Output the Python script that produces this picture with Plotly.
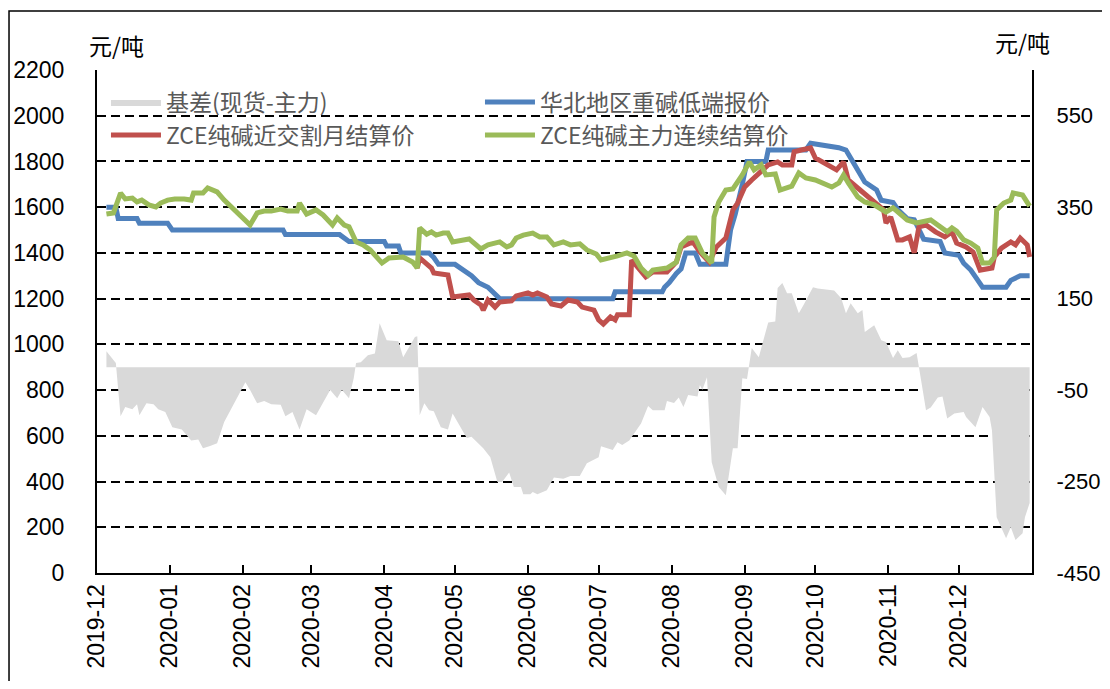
import plotly.graph_objects as go

# ---------------- data ----------------
month_ticks = ["2019-12-01", "2020-01-01", "2020-02-01", "2020-03-01", "2020-04-01",
               "2020-05-01", "2020-06-01", "2020-07-01", "2020-08-01", "2020-09-01",
               "2020-10-01", "2020-11-01", "2020-12-01"]
month_labels = ["2019-12", "2020-01", "2020-02", "2020-03", "2020-04", "2020-05", "2020-06",
                "2020-07", "2020-08", "2020-09", "2020-10", "2020-11", "2020-12"]

# 基差(现货-主力) — right axis
basis_dates = ["2019-12-05", "2019-12-09", "2019-12-11", "2019-12-13", "2019-12-16", "2019-12-18",
               "2019-12-19", "2019-12-22", "2019-12-25", "2019-12-27", "2019-12-30", "2020-01-02",
               "2020-01-06", "2020-01-10", "2020-01-13", "2020-01-15", "2020-01-18", "2020-01-21",
               "2020-01-24", "2020-01-29", "2020-02-02", "2020-02-04", "2020-02-07", "2020-02-10",
               "2020-02-13", "2020-02-17", "2020-02-19", "2020-02-22", "2020-02-25", "2020-02-28",
               "2020-03-03", "2020-03-09", "2020-03-12", "2020-03-14", "2020-03-17", "2020-03-19",
               "2020-03-20", "2020-03-22", "2020-03-25", "2020-03-28", "2020-03-30", "2020-04-02",
               "2020-04-07", "2020-04-09", "2020-04-14", "2020-04-15", "2020-04-16", "2020-04-18",
               "2020-04-20", "2020-04-22", "2020-04-25", "2020-04-28", "2020-04-30", "2020-05-06",
               "2020-05-08", "2020-05-13", "2020-05-16", "2020-05-19", "2020-05-21", "2020-05-24",
               "2020-05-26", "2020-05-29", "2020-05-30", "2020-06-02", "2020-06-03", "2020-06-05",
               "2020-06-09", "2020-06-12", "2020-06-16", "2020-06-19", "2020-06-23", "2020-06-26",
               "2020-07-01", "2020-07-02", "2020-07-07", "2020-07-09", "2020-07-11", "2020-07-14",
               "2020-07-19", "2020-07-22", "2020-07-24", "2020-07-29", "2020-07-30", "2020-08-02",
               "2020-08-04", "2020-08-06", "2020-08-08", "2020-08-12", "2020-08-13", "2020-08-14",
               "2020-08-16", "2020-08-18", "2020-08-21", "2020-08-24", "2020-08-27", "2020-08-29",
               "2020-08-31", "2020-09-02", "2020-09-04", "2020-09-07", "2020-09-09", "2020-09-11",
               "2020-09-14", "2020-09-15", "2020-09-17", "2020-09-19", "2020-09-21", "2020-09-24",
               "2020-09-26", "2020-09-30", "2020-10-02", "2020-10-09", "2020-10-12", "2020-10-14",
               "2020-10-16", "2020-10-19", "2020-10-21", "2020-10-22", "2020-10-26", "2020-10-29",
               "2020-10-31", "2020-11-03", "2020-11-05", "2020-11-07", "2020-11-10", "2020-11-13",
               "2020-11-14", "2020-11-17", "2020-11-19", "2020-11-22", "2020-11-24", "2020-11-26",
               "2020-11-29", "2020-12-03", "2020-12-04", "2020-12-08", "2020-12-11", "2020-12-14",
               "2020-12-15", "2020-12-17", "2020-12-21", "2020-12-23", "2020-12-25", "2020-12-28",
               "2020-12-29", "2020-12-31"]
basis_vals = [35, 9, -107, -87, -92, -81,
              -105, -79, -81, -92, -98, -131,
              -136, -160, -158, -177, -172, -166,
              -120, -72, -33, -50, -79, -74,
              -81, -82, -107, -98, -136, -92,
              -105, -50, -68, -50, -68, -24,
              9, 11, 26, 30, 96, 59,
              57, 22, 66, 68, -105, -79,
              -94, -96, -131, -136, -101, -155,
              -152, -177, -197, -251, -251, -230,
              -262, -262, -278, -278, -273, -278,
              -269, -241, -244, -238, -238, -210,
              -197, -173, -181, -164, -170, -160,
              -123, -85, -94, -94, -74, -78,
              -66, -87, -61, -64, -39, -50,
              -22, -208, -262, -280, -177, -177,
              -24, -26, 42, 22, 63, 98,
              100, 173, 184, 162, 162, 118,
              136, 175, 172, 168, 151, 118,
              140, 118, 125, 77, 92, 59,
              55, 20, 37, 20, 22, 31,
              0, -94, -88, -66, -64, -112,
              -101, -98, -109, -131, -87, -109,
              -138, -328, -374, -350, -378, -363,
              -328, -297]

# 华北地区重碱低端报价 — left axis
blue_dates = ["2019-12-05", "2019-12-09", "2019-12-10", "2019-12-18", "2019-12-19", "2019-12-31",
              "2020-01-02", "2020-02-18", "2020-02-19", "2020-03-13", "2020-03-17", "2020-04-01",
              "2020-04-02", "2020-04-07", "2020-04-08", "2020-04-20", "2020-04-22", "2020-04-24",
              "2020-05-01", "2020-05-08", "2020-05-11", "2020-05-15", "2020-05-20", "2020-07-07",
              "2020-07-08", "2020-07-28", "2020-07-29", "2020-07-31", "2020-08-03", "2020-08-05",
              "2020-08-07", "2020-08-11", "2020-08-13", "2020-08-24", "2020-08-26", "2020-08-28",
              "2020-08-31", "2020-09-02", "2020-09-10", "2020-09-11", "2020-09-27", "2020-09-29",
              "2020-10-11", "2020-10-14", "2020-10-16", "2020-10-19", "2020-10-22", "2020-10-27",
              "2020-10-29", "2020-11-03", "2020-11-05", "2020-11-09", "2020-11-12", "2020-11-16",
              "2020-11-23", "2020-11-25", "2020-12-01", "2020-12-03", "2020-12-06", "2020-12-08",
              "2020-12-11", "2020-12-21", "2020-12-23", "2020-12-27", "2020-12-31"]
blue_vals = [1600, 1600, 1550, 1550, 1530, 1530,
             1500, 1500, 1480, 1480, 1450, 1450,
             1430, 1430, 1400, 1400, 1380, 1350,
             1350, 1300, 1270, 1250, 1200, 1200,
             1230, 1230, 1250, 1270, 1310, 1330,
             1400, 1400, 1350, 1350, 1500, 1570,
             1700, 1800, 1800, 1850, 1850, 1880,
             1860, 1850, 1815, 1765, 1710, 1675,
             1630, 1620, 1590, 1550, 1545, 1460,
             1450, 1400, 1390, 1355, 1325, 1295,
             1250, 1250, 1280, 1300, 1300]

# ZCE纯碱近交割月结算价 — left axis
red_dates = ["2020-04-14", "2020-04-15", "2020-04-16", "2020-04-19", "2020-04-21", "2020-04-22",
             "2020-04-28", "2020-04-30", "2020-05-07", "2020-05-09", "2020-05-12", "2020-05-13",
             "2020-05-15", "2020-05-18", "2020-05-20", "2020-05-25", "2020-05-27", "2020-06-01",
             "2020-06-03", "2020-06-05", "2020-06-09", "2020-06-11", "2020-06-15", "2020-06-18",
             "2020-06-22", "2020-06-24", "2020-06-29", "2020-07-01", "2020-07-03", "2020-07-06",
             "2020-07-08", "2020-07-09", "2020-07-14", "2020-07-15", "2020-07-18", "2020-07-21",
             "2020-07-24", "2020-07-30", "2020-08-03", "2020-08-05", "2020-08-10", "2020-08-13",
             "2020-08-17", "2020-08-20", "2020-08-24", "2020-08-25", "2020-08-27", "2020-08-29",
             "2020-09-01", "2020-09-04", "2020-09-07", "2020-09-11", "2020-09-15", "2020-09-17",
             "2020-09-21", "2020-09-22", "2020-09-25", "2020-09-29", "2020-10-01", "2020-10-06",
             "2020-10-10", "2020-10-13", "2020-10-15", "2020-10-19", "2020-10-21", "2020-10-27",
             "2020-10-30", "2020-10-31", "2020-11-02", "2020-11-05", "2020-11-07", "2020-11-10",
             "2020-11-12", "2020-11-14", "2020-11-17", "2020-11-21", "2020-11-25", "2020-11-28",
             "2020-11-30", "2020-12-04", "2020-12-07", "2020-12-10", "2020-12-15", "2020-12-16",
             "2020-12-19", "2020-12-23", "2020-12-25", "2020-12-27", "2020-12-30", "2020-12-31"]
red_vals = [1360, 1334, 1378, 1347, 1334, 1312,
            1303, 1207, 1216, 1194, 1172, 1150,
            1194, 1163, 1185, 1190, 1212, 1225,
            1216, 1225, 1207, 1177, 1168, 1194,
            1185, 1163, 1150, 1107, 1089, 1120,
            1107, 1129, 1129, 1369, 1334, 1295,
            1317, 1317, 1360, 1426, 1448, 1404,
            1360, 1426, 1465, 1500, 1588, 1618,
            1688, 1719, 1750, 1785, 1798, 1785,
            1785, 1842, 1850, 1859, 1815, 1785,
            1763, 1798, 1719, 1684, 1667, 1618,
            1588, 1531, 1557, 1457, 1457, 1470,
            1400, 1514, 1522, 1492, 1470, 1492,
            1443, 1426, 1404, 1325, 1334, 1382,
            1421, 1448, 1435, 1465, 1435, 1382]

# ZCE纯碱主力连续结算价 — left axis
green_dates = ["2019-12-05", "2019-12-08", "2019-12-11", "2019-12-13", "2019-12-16", "2019-12-18",
               "2019-12-20", "2019-12-23", "2019-12-26", "2019-12-28", "2019-12-31", "2020-01-03",
               "2020-01-07", "2020-01-10", "2020-01-11", "2020-01-15", "2020-01-17", "2020-01-21",
               "2020-01-24", "2020-02-04", "2020-02-07", "2020-02-10", "2020-02-13", "2020-02-17",
               "2020-02-20", "2020-02-24", "2020-02-25", "2020-02-28", "2020-03-03", "2020-03-06",
               "2020-03-10", "2020-03-12", "2020-03-15", "2020-03-17", "2020-03-20", "2020-03-23",
               "2020-03-26", "2020-03-31", "2020-04-03", "2020-04-09", "2020-04-13", "2020-04-15",
               "2020-04-16", "2020-04-19", "2020-04-21", "2020-04-23", "2020-04-26", "2020-04-28",
               "2020-04-30", "2020-05-07", "2020-05-12", "2020-05-15", "2020-05-20", "2020-05-23",
               "2020-05-25", "2020-05-27", "2020-05-30", "2020-06-03", "2020-06-06", "2020-06-09",
               "2020-06-12", "2020-06-16", "2020-06-19", "2020-06-23", "2020-06-26", "2020-06-30",
               "2020-07-02", "2020-07-06", "2020-07-09", "2020-07-13", "2020-07-16", "2020-07-19",
               "2020-07-22", "2020-07-24", "2020-07-30", "2020-08-03", "2020-08-05", "2020-08-08",
               "2020-08-11", "2020-08-14", "2020-08-18", "2020-08-19", "2020-08-21", "2020-08-24",
               "2020-08-27", "2020-08-31", "2020-09-03", "2020-09-05", "2020-09-08", "2020-09-10",
               "2020-09-14", "2020-09-16", "2020-09-19", "2020-09-21", "2020-09-24", "2020-09-27",
               "2020-10-01", "2020-10-08", "2020-10-11", "2020-10-13", "2020-10-15", "2020-10-19",
               "2020-10-22", "2020-10-26", "2020-10-31", "2020-11-03", "2020-11-09", "2020-11-13",
               "2020-11-19", "2020-11-23", "2020-11-26", "2020-11-28", "2020-11-30", "2020-12-03",
               "2020-12-06", "2020-12-09", "2020-12-11", "2020-12-14", "2020-12-16", "2020-12-17",
               "2020-12-20", "2020-12-23", "2020-12-24", "2020-12-28", "2020-12-30", "2020-12-31"]
green_vals = [1570, 1575, 1662, 1636, 1640, 1623,
              1631, 1610, 1601, 1618, 1631, 1636,
              1636, 1631, 1662, 1662, 1684, 1667,
              1631, 1522, 1575, 1583, 1583, 1592,
              1583, 1583, 1618, 1570, 1588, 1566,
              1522, 1553, 1522, 1514, 1448, 1435,
              1413, 1356, 1378, 1382, 1360, 1334,
              1509, 1482, 1492, 1478, 1487, 1487,
              1448, 1461, 1417, 1435, 1448, 1426,
              1435, 1465, 1478, 1487, 1470, 1470,
              1435, 1448, 1435, 1440, 1413, 1395,
              1369, 1378, 1387, 1400, 1387, 1334,
              1303, 1325, 1334, 1360, 1435, 1465,
              1465, 1400, 1356, 1557, 1623, 1675,
              1680, 1741, 1798, 1763, 1785, 1741,
              1745, 1675, 1688, 1692, 1750, 1728,
              1719, 1688, 1706, 1741, 1706, 1645,
              1623, 1610, 1579, 1597, 1544, 1531,
              1544, 1514, 1492, 1509, 1495, 1457,
              1443, 1421, 1356, 1356, 1382, 1588,
              1618, 1631, 1662, 1653, 1618, 1605]

left_ticks = [0, 200, 400, 600, 800, 1000, 1200, 1400, 1600, 1800, 2000, 2200]
right_ticks = [-450, -250, -50, 150, 350, 550]
right_labels = ["-450", "-250", "-50", "150", "350", "550"]

# ---------------- figure ----------------
LAT = "Liberation Sans, Noto Sans CJK SC, sans-serif"
CJK = "Noto Sans CJK SC, Liberation Sans, sans-serif"

fig = go.Figure()
fig.add_trace(go.Scatter(x=basis_dates, y=basis_vals, name="基差(现货-主力)", mode="lines",
                         fill="tozeroy", fillcolor="#D9D9D9",
                         line=dict(width=0, color="#D9D9D9"), yaxis="y"))
fig.add_trace(go.Scatter(x=blue_dates, y=blue_vals, name="华北地区重碱低端报价", mode="lines",
                         line=dict(color="#4F81BD", width=5), yaxis="y2"))
fig.add_trace(go.Scatter(x=red_dates, y=red_vals, name="ZCE纯碱近交割月结算价", mode="lines",
                         line=dict(color="#C0504D", width=5), yaxis="y2"))
fig.add_trace(go.Scatter(x=green_dates, y=green_vals, name="ZCE纯碱主力连续结算价", mode="lines",
                         line=dict(color="#9BBB59", width=5), yaxis="y2"))

# page body has an 8px margin, so the figure is sized to fit the 1110x689 window
fig.update_layout(
    width=1094, height=673,
    margin=dict(l=89, r=70, t=62, b=108, autoexpand=False),
    paper_bgcolor="white", plot_bgcolor="white",
    showlegend=True,
    legend=dict(orientation="h", x=0.0096, y=0.979, xanchor="left", yanchor="top",
                bgcolor="rgba(0,0,0,0)", entrywidth=309, entrywidthmode="pixels",
                font=dict(family=CJK, size=23, color="#595959"),
                itemwidth=50, tracegroupgap=0, traceorder="normal"),
    xaxis=dict(type="date", range=["2019-12-01", "2021-01-01"],
               tickvals=month_ticks, ticktext=month_labels, tickangle=-90,
               ticks="inside", ticklen=8, tickwidth=2, tickcolor="black",
               showline=True, linecolor="black", linewidth=2, showgrid=False, zeroline=False,
               tickfont=dict(family=LAT, size=23, color="black")),
    yaxis=dict(side="right", range=[-450, 650], tickvals=right_ticks, ticktext=right_labels,
               showgrid=False, zeroline=False, showline=True, linecolor="black", linewidth=2,
               ticks="", ticklabelstandoff=18,
               tickfont=dict(family=LAT, size=22, color="black")),
    yaxis2=dict(overlaying="y", side="left", range=[0, 2200], tickvals=left_ticks,
                showgrid=True, gridcolor="black", gridwidth=2, griddash="9px,5px",
                zeroline=False, showline=True, linecolor="black", linewidth=2,
                ticks="", ticklabelstandoff=26,
                tickfont=dict(family=LAT, size=23, color="black")),
    annotations=[
        dict(text="元/吨", xref="paper", yref="paper", x=0.021, y=1.05, showarrow=False,
             xanchor="center", yanchor="middle", font=dict(family=CJK, size=23, color="black")),
        dict(text="元/吨", xref="paper", yref="paper", x=0.99, y=1.056, showarrow=False,
             xanchor="center", yanchor="middle", font=dict(family=CJK, size=23, color="black")),
    ],
    shapes=[dict(type="rect", xref="paper", yref="paper", x0=-0.0941, x1=1.2,
                 y0=-0.3, y1=1.1173, line=dict(color="black", width=1.5),
                 fillcolor="rgba(0,0,0,0)", layer="above")],
)

fig.write_html("out.html")
